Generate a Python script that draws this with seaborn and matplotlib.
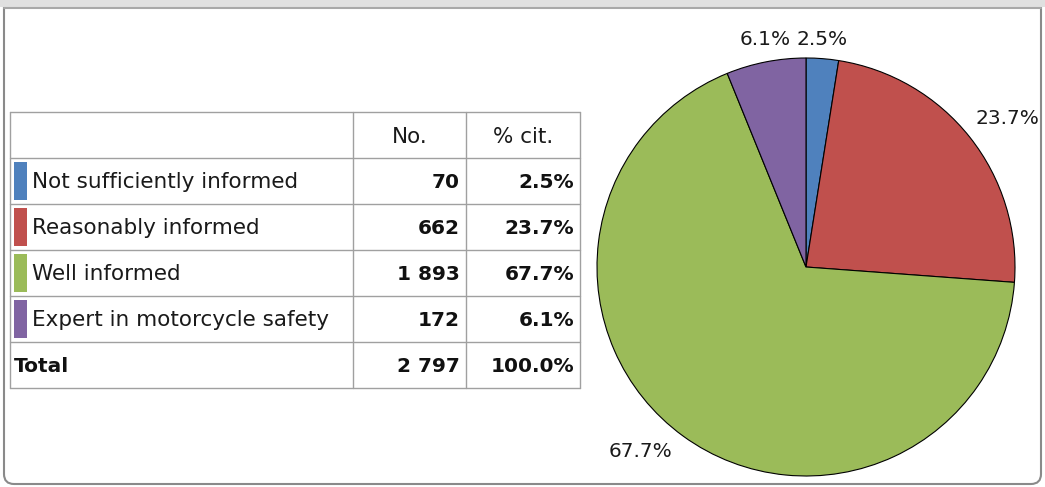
import matplotlib
matplotlib.use('Agg')
import matplotlib.pyplot as plt
import seaborn as sns
from matplotlib.patches import Rectangle, FancyBboxPatch

# data
categories = ['Not sufficiently informed', 'Reasonably informed',
              'Well informed', 'Expert in motorcycle safety']
counts = [70, 662, 1893, 172]
col_headers = ['No.', '% cit.']
total_label = 'Total'

sns.set_theme(style='white')
plt.rcParams['font.family'] = ['DejaVu Sans']
colors = ['#4F81BD', '#C0504D', '#9BBB59', '#8064A2']


def fmt_int(n):
    return f'{n:,}'.replace(',', ' ')


total = sum(counts)
pcts = [100.0 * c / total for c in counts]

W, H = 1045, 487
fig = plt.figure(figsize=(W / 100, H / 100), dpi=100)
fig.patch.set_facecolor('white')

# background axes in pixel coords
bg = fig.add_axes([0, 0, 1, 1])
bg.set_xlim(0, W)
bg.set_ylim(H, 0)
bg.axis('off')

# outer frame with rounded bottom corners
bg.add_patch(FancyBboxPatch((4, -40), 1037, 524, boxstyle='round,pad=0,rounding_size=10',
                            fc='white', ec='#8a8a8a', lw=1.5, zorder=0))
bg.add_patch(Rectangle((0, 0), W, 7, fc='#e0e0e0', ec='none', zorder=1))
bg.plot([4, 1041], [7.5, 7.5], color='#a8a8a8', lw=1.5, zorder=2)

# table
xs = [10, 353, 466, 580]
row_top = 112
row_h = 46
n_rows = len(categories) + 2
grid_c = '#a0a0a0'
for i in range(n_rows + 1):
    y = row_top + i * row_h
    bg.plot([xs[0], xs[-1]], [y, y], color=grid_c, lw=1.0, zorder=3)
for x in xs:
    bg.plot([x, x], [row_top, row_top + n_rows * row_h], color=grid_c, lw=1.0, zorder=3)

fs = 15.5
fsb = 14.5
txt_c = '#1a1a1a'
yc = row_top + row_h / 2
bg.text((xs[1] + xs[2]) / 2, yc + 2, col_headers[0], ha='center', va='center', fontsize=fs, color=txt_c)
bg.text((xs[2] + xs[3]) / 2, yc + 2, col_headers[1], ha='center', va='center', fontsize=fs, color=txt_c)

for i, (cat, c, p, col) in enumerate(zip(categories, counts, pcts, colors)):
    top = row_top + (i + 1) * row_h
    yc = top + row_h / 2
    bg.add_patch(Rectangle((14, top + 4), 13, row_h - 8, fc=col, ec='none', zorder=4))
    bg.text(32, yc + 1, cat, ha='left', va='center', fontsize=fs, color=txt_c)
    bg.text(xs[2] - 6, yc + 1, fmt_int(c), ha='right', va='center', fontsize=fsb,
            fontweight='bold', color='#111111')
    bg.text(xs[3] - 6, yc + 1, f'{p:.1f}%', ha='right', va='center', fontsize=fsb,
            fontweight='bold', color='#111111')

top = row_top + (len(categories) + 1) * row_h
yc = top + row_h / 2
bg.text(14, yc + 1, total_label, ha='left', va='center', fontsize=fsb, fontweight='bold', color='#111111')
bg.text(xs[2] - 6, yc + 1, fmt_int(total), ha='right', va='center', fontsize=fsb,
        fontweight='bold', color='#111111')
bg.text(xs[3] - 6, yc + 1, f'{100.0:.1f}%', ha='right', va='center', fontsize=fsb,
        fontweight='bold', color='#111111')

# pie
cx, cy, r = 806, 267, 209
pax = fig.add_axes([(cx - r) / W, (H - cy - r) / H, 2 * r / W, 2 * r / H])
pax.set_facecolor('none')
wedges, texts = pax.pie(counts, colors=colors, startangle=90, counterclock=False,
                        labels=[f'{p:.1f}%' for p in pcts], labeldistance=1.09,
                        wedgeprops=dict(edgecolor='black', linewidth=0.8),
                        textprops=dict(fontsize=14.5, color=txt_c))
# nudge labels to where the original places them
texts[0].set_position((-0.045, 1.09))
texts[0].set_ha('left')
texts[1].set_position((0.81, 0.71))
texts[1].set_ha('left')
texts[3].set_position((-0.075, 1.09))
texts[3].set_ha('right')
pax.set_xlim(-1, 1)
pax.set_ylim(-1, 1)
pax.set_aspect('equal')
pax.axis('off')

fig.savefig('out.png', dpi=100, facecolor='white')
